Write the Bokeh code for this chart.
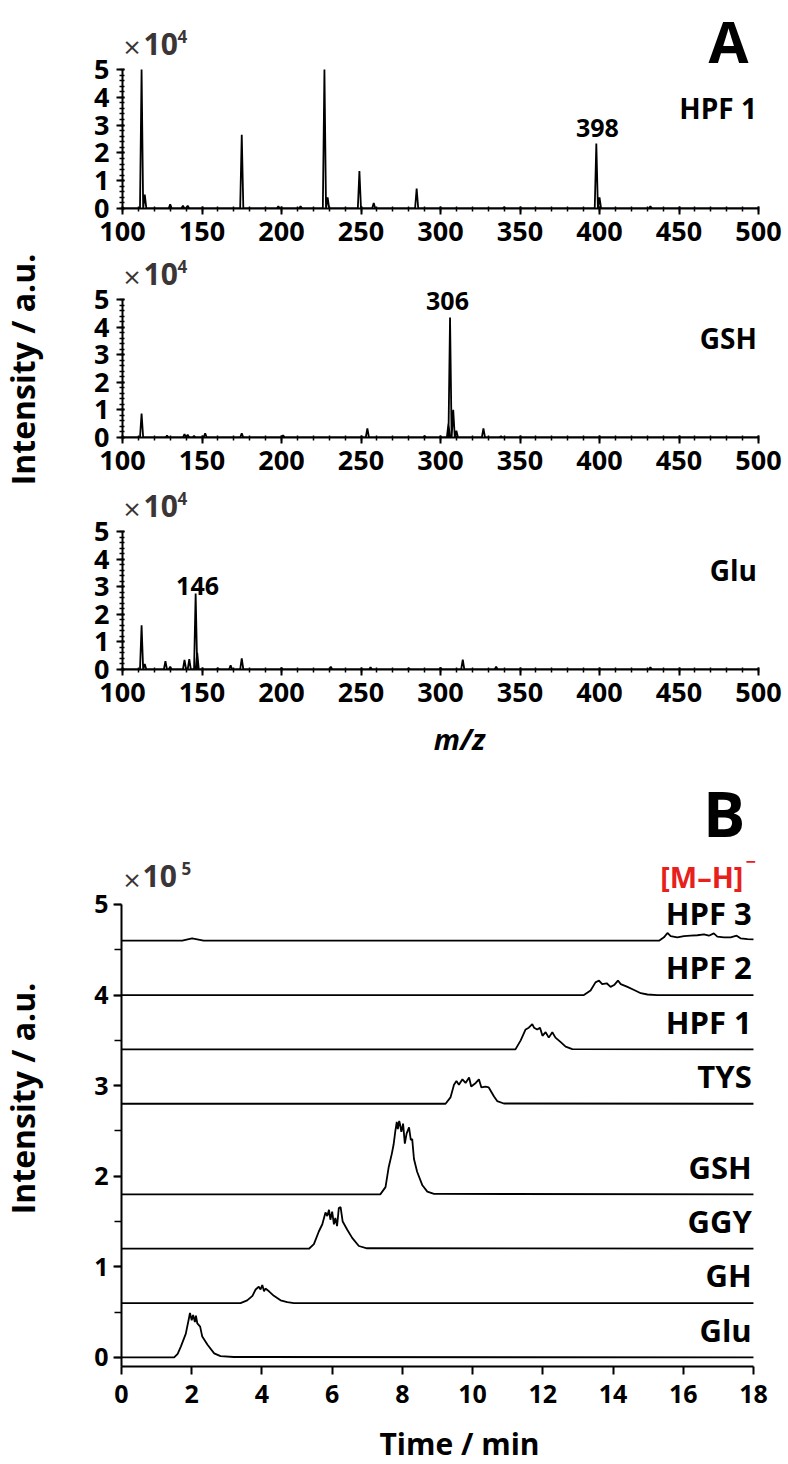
import numpy as np
from bokeh.plotting import figure
from bokeh.models import Label, Range1d, FixedTicker
from bokeh.layouts import column, row
from bokeh.embed import file_html
from bokeh.resources import INLINE

FONT = "Open Sans"

# ---------------- Panel A: mass spectra (intensity in 1e4) ----------------
spec_names = ["HPF 1", "GSH", "Glu"]

hpf1_mz = [112, 114, 130, 138, 141, 175, 198, 212, 227, 229, 249, 258, 285, 340, 398, 400, 432]
hpf1_int = [5.0, 0.5, 0.15, 0.1, 0.1, 2.65, 0.08, 0.08, 5.0, 0.4, 1.35, 0.2, 0.72, 0.05, 2.34, 0.4, 0.08]

gsh_mz = [112, 128, 139, 141, 145, 152, 175, 201, 254, 290, 305, 306, 308, 310, 327, 338]
gsh_int = [0.87, 0.07, 0.12, 0.1, 0.06, 0.15, 0.15, 0.08, 0.33, 0.06, 0.5, 4.35, 1.0, 0.25, 0.33, 0.05]

glu_mz = [112, 114, 127, 130, 139, 142, 146, 147, 160, 168, 175, 200, 231, 256, 280, 300, 314, 335, 432]
glu_int = [1.6, 0.2, 0.3, 0.1, 0.35, 0.38, 2.75, 0.6, 0.05, 0.15, 0.4, 0.05, 0.1, 0.08, 0.05, 0.06, 0.36, 0.1, 0.08]

annot_text = ["398", "306", "146"]
annot_x = [398.7, 304.4, 147.2]
annot_y = [2.55, 4.60, 2.68]

xticks_A = [100, 150, 200, 250, 300, 350, 400, 450, 500]
yticks_A = [0, 1, 2, 3, 4, 5]

# ---------------- Panel B: extracted ion chromatograms (intensity in 1e5) ----------------
trace_names = ["Glu", "GH", "GGY", "GSH", "TYS", "HPF 1", "HPF 2", "HPF 3"]
trace_offsets = [0.0, 0.6, 1.2, 1.8, 2.8, 3.4, 4.0, 4.6]

glu_t = [0, 1.50, 1.60, 1.69, 1.83, 1.92, 1.95, 2.00, 2.04, 2.09, 2.12, 2.16, 2.24, 2.30, 2.45, 2.64, 2.82, 3.2, 18]
glu_v = [0, 0, 0.04, 0.12, 0.26, 0.43, 0.49, 0.41, 0.47, 0.39, 0.46, 0.375, 0.34, 0.23, 0.14, 0.045, 0.015, 0.005, 0]

gh_t = [0, 3.39, 3.58, 3.73, 3.82, 3.91, 3.96, 4.01, 4.06, 4.10, 4.20, 4.34, 4.53, 4.72, 4.91, 18]
gh_v = [0, 0, 0.03, 0.08, 0.15, 0.18, 0.15, 0.20, 0.13, 0.16, 0.13, 0.08, 0.03, 0.01, 0, 0]

ggy_t = [0, 5.34, 5.48, 5.62, 5.72, 5.81, 5.86, 5.91, 5.95, 6.00, 6.05, 6.09, 6.14, 6.19, 6.24, 6.30, 6.43, 6.57, 6.76, 6.99, 18]
ggy_v = [0, 0, 0.05, 0.19, 0.27, 0.40, 0.36, 0.43, 0.32, 0.41, 0.27, 0.34, 0.25, 0.45, 0.46, 0.30, 0.21, 0.12, 0.03, 0.005, 0]

gsh_t = [0, 7.37, 7.52, 7.61, 7.70, 7.75, 7.80, 7.84, 7.87, 7.91, 7.93, 7.97, 8.02, 8.07, 8.12, 8.19, 8.24, 8.28, 8.33, 8.42, 8.57, 8.71, 8.90, 18]
gsh_v = [0, 0, 0.08, 0.30, 0.45, 0.55, 0.70, 0.80, 0.72, 0.81, 0.78, 0.69, 0.78, 0.56, 0.67, 0.74, 0.60, 0.61, 0.39, 0.25, 0.10, 0.03, 0.005, 0]

tys_t = [0, 9.23, 9.37, 9.47, 9.54, 9.61, 9.71, 9.80, 9.90, 9.96, 10.09, 10.18, 10.25, 10.37, 10.46, 10.61, 10.70, 10.89, 18]
tys_v = [0, 0, 0.07, 0.21, 0.25, 0.21, 0.27, 0.23, 0.29, 0.19, 0.23, 0.27, 0.18, 0.19, 0.18, 0.08, 0.03, 0.003, 0]

hpf1_t = [0, 11.22, 11.37, 11.51, 11.60, 11.70, 11.75, 11.84, 11.92, 11.99, 12.08, 12.17, 12.27, 12.36, 12.51, 12.65, 12.84, 18]
hpf1_v = [0, 0, 0.10, 0.22, 0.24, 0.28, 0.24, 0.22, 0.24, 0.15, 0.19, 0.13, 0.19, 0.13, 0.08, 0.03, 0.003, 0]

hpf2_t = [0, 13.17, 13.36, 13.50, 13.60, 13.69, 13.82, 13.93, 14.03, 14.14, 14.22, 14.41, 14.60, 14.79, 14.98, 15.26, 18]
hpf2_v = [0, 0, 0.05, 0.14, 0.16, 0.12, 0.13, 0.09, 0.11, 0.16, 0.12, 0.09, 0.055, 0.02, 0.006, 0, 0]

hpf3_t = [0, 1.73, 2.01, 2.34, 15.31, 15.45, 15.55, 15.64, 15.83, 16.02, 16.21, 16.40, 16.59, 16.73, 16.87, 16.97, 17.16, 17.35, 17.52, 17.63, 17.83, 18.0]
hpf3_v = [0, 0, 0.026, 0, 0, 0.037, 0.085, 0.05, 0.037, 0.05, 0.055, 0.06, 0.07, 0.055, 0.08, 0.045, 0.037, 0.037, 0.055, 0.026, 0.018, 0.015]

xticks_B = [0, 2, 4, 6, 8, 10, 12, 14, 16, 18]
yticks_B = [0, 1, 2, 3, 4, 5]

spectra = [(hpf1_mz, hpf1_int), (gsh_mz, gsh_int), (glu_mz, glu_int)]
traces = [(glu_t, glu_v), (gh_t, gh_v), (ggy_t, ggy_v), (gsh_t, gsh_v),
          (tys_t, tys_v), (hpf1_t, hpf1_v), (hpf2_t, hpf2_v), (hpf3_t, hpf3_v)]

GRAY = "#3b3535"
RED = "#e8201c"
SHIFT = 0.4  # fraction of font size by which alphabetic text lands low in the svg output


def lbl(p, x, y, text, size, style="bold", align="left", baseline="alphabetic", color="black", angle=0.0):
    p.add_layout(Label(x=x, y=y, text=text, text_font=FONT, text_font_size=f"{size}px",
                       text_font_style=style, text_align=align, text_baseline=baseline,
                       text_color=color, angle=angle))


def blbl(p, ppu, x, y_base, text, size, **kw):
    """label whose alphabetic baseline sits at data y_base"""
    lbl(p, x, y_base + SHIFT * size / ppu, text, size, **kw)


def text_fig(w, h, items):
    p = figure(width=w, height=h, output_backend="svg", toolbar_location=None,
               x_range=Range1d(0, w), y_range=Range1d(0, h), min_border=0,
               x_axis_location=None, y_axis_location=None, frame_align=False)
    p.outline_line_color = None
    p.grid.grid_line_color = None
    for it in items:
        x, yb, text, size = it[:4]
        kw = it[4] if len(it) > 4 else {}
        if kw.get("baseline") == "middle":
            yy = h - yb
        else:
            yy = h - yb + SHIFT * size
        lbl(p, x, yy, text, size, **kw)
    return p


def style_axis(ax, size):
    ax.axis_line_width = 2
    ax.axis_line_color = "black"
    ax.major_tick_line_width = 2
    ax.minor_tick_line_width = 1.5
    ax.major_label_text_font = FONT
    ax.major_label_text_font_style = "bold"
    ax.major_label_text_font_size = size
    ax.major_label_text_color = "black"


PPU_X_A = 1.59
ppu_A = [27.8, 27.6, 27.6]


def spectrum_fig(i, height, bottom):
    mz, inten = spectra[i]
    ppu = ppu_A[i]
    p = figure(width=738, height=height, output_backend="svg", toolbar_location=None,
               x_range=Range1d(100, 100 + 666 / PPU_X_A), y_range=Range1d(0, (height - bottom) / ppu),
               min_border_left=72, min_border_right=0, min_border_top=0,
               min_border_bottom=bottom, frame_align=False)
    p.outline_line_color = None
    p.grid.grid_line_color = None
    xs, ys = [100], [0]
    for m, h in sorted(zip(mz, inten)):
        xs += [m - 1.0, m, m + 1.0]
        ys += [0, h, 0]
    xs.append(500)
    ys.append(0)
    p.line(xs, ys, line_color="black", line_width=1.8)

    p.xaxis.ticker = FixedTicker(ticks=xticks_A, minor_ticks=list(range(100, 501, 10)))
    p.yaxis.ticker = FixedTicker(ticks=yticks_A, minor_ticks=list(np.round(np.arange(0, 5.01, 0.2), 2)))
    p.xaxis.bounds = (100, 500)
    p.yaxis.bounds = (0, 5)
    for ax in (p.xaxis[0], p.yaxis[0]):
        style_axis(ax, "27px")
        ax.major_tick_out = 6
        ax.major_tick_in = 2
        ax.minor_tick_out = 3
        ax.minor_tick_in = 2
    p.xaxis.major_label_standoff = 7
    p.yaxis.major_label_standoff = 7

    # multiplier above the y axis
    blbl(p, ppu, 100.6, 5 + 11 / ppu, "×", 30, style="normal", color=GRAY)
    blbl(p, ppu, 113.2, 5 + 14 / ppu, "10", 30, color=GRAY)
    blbl(p, ppu, 134.6, 5 + 26 / ppu, "4", 17, color=GRAY)
    # sample name and main ion
    blbl(p, ppu, 499, 3.2, spec_names[i], 28, align="right")
    blbl(p, ppu, annot_x[i], annot_y[i], annot_text[i], 25, align="center")
    return p


pA1 = spectrum_fig(0, 252, 44)
blbl(pA1, ppu_A[0], 493.7, 5.22, "A", 58, align="right")
pA2 = spectrum_fig(1, 230, 45)
pA3 = spectrum_fig(2, 231, 44)
fA = text_fig(738, 57, [(409, 37, "m/z", 29, dict(style="bold italic", align="center"))])

pL = text_fig(50, 770, [(22, 369, "Intensity / a.u.", 32,
                         dict(align="center", baseline="middle", angle=np.pi / 2))])

# ---------------- Panel B ----------------
PPU_B = 90.6
PPU_X_B = 35.11
pB = figure(width=738, height=650, output_backend="svg", toolbar_location=None,
            x_range=Range1d(0, 667 / PPU_X_B), y_range=Range1d(-0.1, -0.1 + 596 / PPU_B),
            min_border_left=71, min_border_right=0, min_border_top=0, min_border_bottom=54,
            frame_align=False)
pB.outline_line_color = None
pB.grid.grid_line_color = None
for (t, v), off in zip(traces, trace_offsets):
    pB.line(t, [val + off for val in v], line_color="black", line_width=1.8)
for name, off in zip(trace_names, trace_offsets):
    blbl(pB, PPU_B, 17.95, off + 0.17, name, 31, align="right")

pB.xaxis.ticker = FixedTicker(ticks=xticks_B)
pB.yaxis.ticker = FixedTicker(ticks=yticks_B, minor_ticks=[0, 0.5, 1, 1.5, 2, 2.5, 3, 3.5, 4, 4.5, 5])
pB.xaxis.bounds = (0, 18)
pB.yaxis.bounds = (-0.1, 5)
for ax in (pB.xaxis[0], pB.yaxis[0]):
    style_axis(ax, "25px")
    ax.major_tick_out = 8
    ax.major_tick_in = 0
    ax.minor_tick_out = 7
    ax.minor_tick_in = 0
pB.xaxis.major_label_standoff = 10
pB.yaxis.major_label_standoff = 5

blbl(pB, PPU_B, 0.057, 5.138, "×", 30, style="normal", color=GRAY)
blbl(pB, PPU_B, 0.598, 5.177, "10", 30, color=GRAY)
blbl(pB, PPU_B, 1.709, 5.32, "5", 17, color=GRAY)
blbl(pB, PPU_B, 17.77, 5.74, "B", 63, align="right")
blbl(pB, PPU_B, 17.715, 5.177, "[M–H]", 29, align="right", color=RED)
blbl(pB, PPU_B, 17.77, 5.397, "−", 18, color=RED)

pLB = text_fig(50, 650, [(22, 328, "Intensity / a.u.", 32,
                          dict(align="center", baseline="middle", angle=np.pi / 2))])
fB = text_fig(788, 44, [(459, 35, "Time / min", 30, dict(align="center"))])

layout = column(
    row(pL, column(pA1, pA2, pA3, fA)),
    row(pLB, pB),
    fB,
)

open("out.html", "w").write(file_html(layout, INLINE))
